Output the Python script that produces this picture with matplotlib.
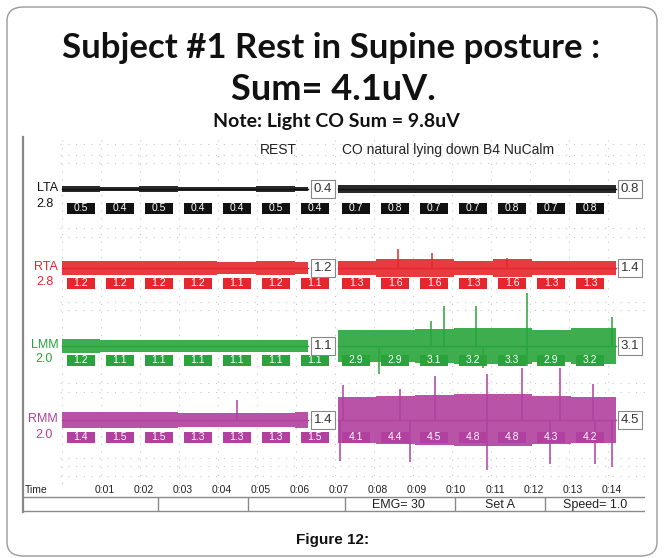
import numpy as np
import matplotlib
matplotlib.use("Agg")
import matplotlib.pyplot as plt
from matplotlib.patches import Rectangle, FancyBboxPatch

# ---------------- data ----------------
channels = ["LTA", "RTA", "LMM", "RMM"]
gains = ["2.8", "2.8", "2.0", "2.0"]
colors = ["#111111", "#e5262c", "#28a43b", "#b1409f"]

lta_rest = [0.5, 0.4, 0.5, 0.4, 0.4, 0.5, 0.4]
lta_co = [0.7, 0.8, 0.7, 0.7, 0.8, 0.7, 0.8]
rta_rest = [1.2, 1.2, 1.2, 1.2, 1.1, 1.2, 1.1]
rta_co = [1.3, 1.6, 1.6, 1.3, 1.6, 1.3, 1.3]
lmm_rest = [1.2, 1.1, 1.1, 1.1, 1.1, 1.1, 1.1]
lmm_co = [2.9, 2.9, 3.1, 3.2, 3.3, 2.9, 3.2]
rmm_rest = [1.4, 1.5, 1.5, 1.3, 1.3, 1.3, 1.5]
rmm_co = [4.1, 4.4, 4.5, 4.8, 4.8, 4.3, 4.2]
rest_avg = [0.4, 1.2, 1.1, 1.4]
co_avg = [0.8, 1.4, 3.1, 4.5]

# spikes: (time s, excursion in trace units)
rta_spikes = [(8.51, 3.4), (9.38, 2.8), (11.31, 1.8)]
lmm_spikes = [(9.36, 4.6), (9.69, 7.2), (10.51, 7.2), (11.82, 9.6), (14.0, 5.2),
              (8.03, -5.0), (10.69, -4.0), (11.82, -3.6)]
rmm_spikes = [(4.38, 3.6), (7.10, 6.4), (8.56, 5.6), (9.46, 8.0), (10.79, 8.4),
              (11.69, 9.4), (12.67, 9.4), (13.51, 6.6),
              (7.03, -7.4), (8.82, -7.6), (10.79, -9.0), (12.41, -8.0),
              (13.56, -8.0), (14.0, -8.6)]
lta_spikes = []

rest_vals = [lta_rest, rta_rest, lmm_rest, rmm_rest]
co_vals = [lta_co, rta_co, lmm_co, rmm_co]
spikes = [lta_spikes, rta_spikes, lmm_spikes, rmm_spikes]

time_labels = ["0:%02d" % i for i in range(1, 15)]
time_ticks = list(range(1, 15))
status_labels = ["", "", "", "EMG= 30", "Set A", "Speed= 1.0"]

title1 = "Subject #1 Rest in Supine posture :"
title2 = "Sum= 4.1uV."
note = "Note: Light CO Sum = 9.8uV"
rest_label = "REST"
co_label = "CO natural lying down B4 NuCalm"
caption = "Figure 12:"

# ---------------- layout ----------------
W, H = 664, 558
fig = plt.figure(figsize=(W / 100, H / 100), dpi=100)
fig.patch.set_facecolor("white")

def fx(x):
    return x / W

def fy(y):
    return 1 - y / H

# outer rounded frame
frame = FancyBboxPatch((fx(7), fy(556)), fx(650), (549) / H,
                       boxstyle="round,pad=0,rounding_size=0.025",
                       transform=fig.transFigure, facecolor="none",
                       edgecolor="#9a9a9a", lw=1.0)
fig.patches.append(frame)

fig.text(fx(331), fy(48), title1, ha="center", va="center", fontsize=25,
         fontweight="bold", family="Lato", color="#111111")
fig.text(fx(333), fy(89), title2, ha="center", va="center", fontsize=26,
         fontweight="bold", family="Lato", color="#111111")
fig.text(fx(336), fy(122), note, ha="center", va="center", fontsize=14,
         fontweight="bold", family="Lato", color="#111111")
fig.text(fx(333), fy(540), caption, ha="center", va="center", fontsize=11,
         fontweight="bold", family="Liberation Sans", color="#111111")

# chart panel: x in seconds, y in panel pixels
x0px, x1px = 23, 645
t0px, pps = 66.0, 39.0
ax = fig.add_axes([fx(x0px), fy(513), (x1px - x0px) / W, (513 - 137) / H])
ax.set_xlim((x0px - t0px) / pps, (x1px - t0px) / pps)
ax.set_ylim(513, 137)
ax.axis("off")

grid_c = "#c9c9c9"
for yg in [144, 155, 163, 228, 237, 302, 310, 383, 392, 458, 466, 476]:
    ax.axhline(yg, color=grid_c, lw=0.8, ls=(0, (1, 6)), xmin=0.06, zorder=0)
for i in range(0, 16):
    ax.vlines(i - 0.1, 140, 485, color=grid_c, lw=0.8, ls=(0, (1, 6)), zorder=0)

# left border of panel and status bar
ax.plot([(x0px - t0px) / pps] * 2, [137, 512], color="#8a8a8a", lw=1.6,
        clip_on=False)
ax.hlines([497, 511], (x0px - t0px) / pps, (x1px - t0px) / pps,
          color="#8a8a8a", lw=1.0)
div_px = [158, 248, 345, 455, 545]
ax.vlines([(d - t0px) / pps for d in div_px], 497, 511, color="#8a8a8a", lw=1.0)
stat_px = [90, 203, 296, 398, 500, 595]
for sx, s in zip(stat_px, status_labels):
    if s:
        ax.text((sx - t0px) / pps, 504.5, s, ha="center", va="center",
                fontsize=9, family="Liberation Sans", color="#222222")

ax.text((25 - t0px) / pps, 490, "Time", ha="left", va="center", fontsize=7.5,
        family="Liberation Sans", color="#222222")
for t, lab in zip(time_ticks, time_labels):
    ax.text(t, 490, lab, ha="center", va="center", fontsize=7.5,
            family="Liberation Sans", color="#222222")

ax.text((278 - t0px) / pps, 150, rest_label, ha="center", va="center",
        fontsize=10, family="Liberation Sans", color="#222222")
ax.text((448 - t0px) / pps, 150, co_label, ha="center", va="center",
        fontsize=10, family="Liberation Sans", color="#222222")

# traces
base_y = [189, 268, 346, 420]
box_y = [208, 283, 360, 437]
gain_y = [204, 282, 359, 435]
k = 5.5
rest_edges = [-0.1] + [i + 0.88 for i in range(6)] + [6.2]
co_edges = [6.97] + [i + 0.94 for i in range(7, 13)] + [14.1]
rest_centers = [i + 0.38 for i in range(7)]
co_centers = [i + 0.44 for i in range(7, 14)]
junction_t = (323 - t0px) / pps
end_t = (630 - t0px) / pps

for ci in range(4):
    c = colors[ci]
    b = base_y[ci]
    for edges, vals in ((rest_edges, rest_vals[ci]), (co_edges, co_vals[ci])):
        v = np.array(list(vals) + [vals[-1]])
        ax.fill_between(edges, b - k * v, b + k * v, step="post", color=c,
                        lw=0, alpha=0.9, zorder=2)
        ax.plot([edges[0], edges[-1]], [b, b], color=c, lw=1.0, zorder=3)
    for st, amp in spikes[ci]:
        ax.vlines(st, b, b - k * amp, color=c, lw=1.1, zorder=3)
    # channel labels
    ax.text(-0.2, b - 1, channels[ci], ha="right", va="center", fontsize=9,
            family="Liberation Sans", color=c)
    ax.text(-0.33, gain_y[ci], gains[ci], ha="right", va="center", fontsize=9,
            family="Liberation Sans", color=c)
    # per-second value boxes
    for centers, vals in ((rest_centers, rest_vals[ci]), (co_centers, co_vals[ci])):
        for xc, v in zip(centers, vals):
            ax.add_patch(Rectangle((xc - 0.36, box_y[ci] - 5.5), 0.72, 11,
                                   facecolor=c, edgecolor="none", zorder=4))
            ax.text(xc, box_y[ci], "%.1f" % v, ha="center", va="center",
                    fontsize=7.5, family="Liberation Sans", color="white",
                    zorder=5)
    # average boxes
    for xt, v in ((junction_t, rest_avg[ci]), (end_t, co_avg[ci])):
        ax.text(xt, b, "%.1f" % v, ha="center", va="center", fontsize=9.5,
                family="Liberation Sans", color="#333333", zorder=6,
                bbox=dict(boxstyle="square,pad=0.2", facecolor="white",
                          edgecolor="#888888", lw=0.8))

fig.savefig("out.png", dpi=100, facecolor="white")
